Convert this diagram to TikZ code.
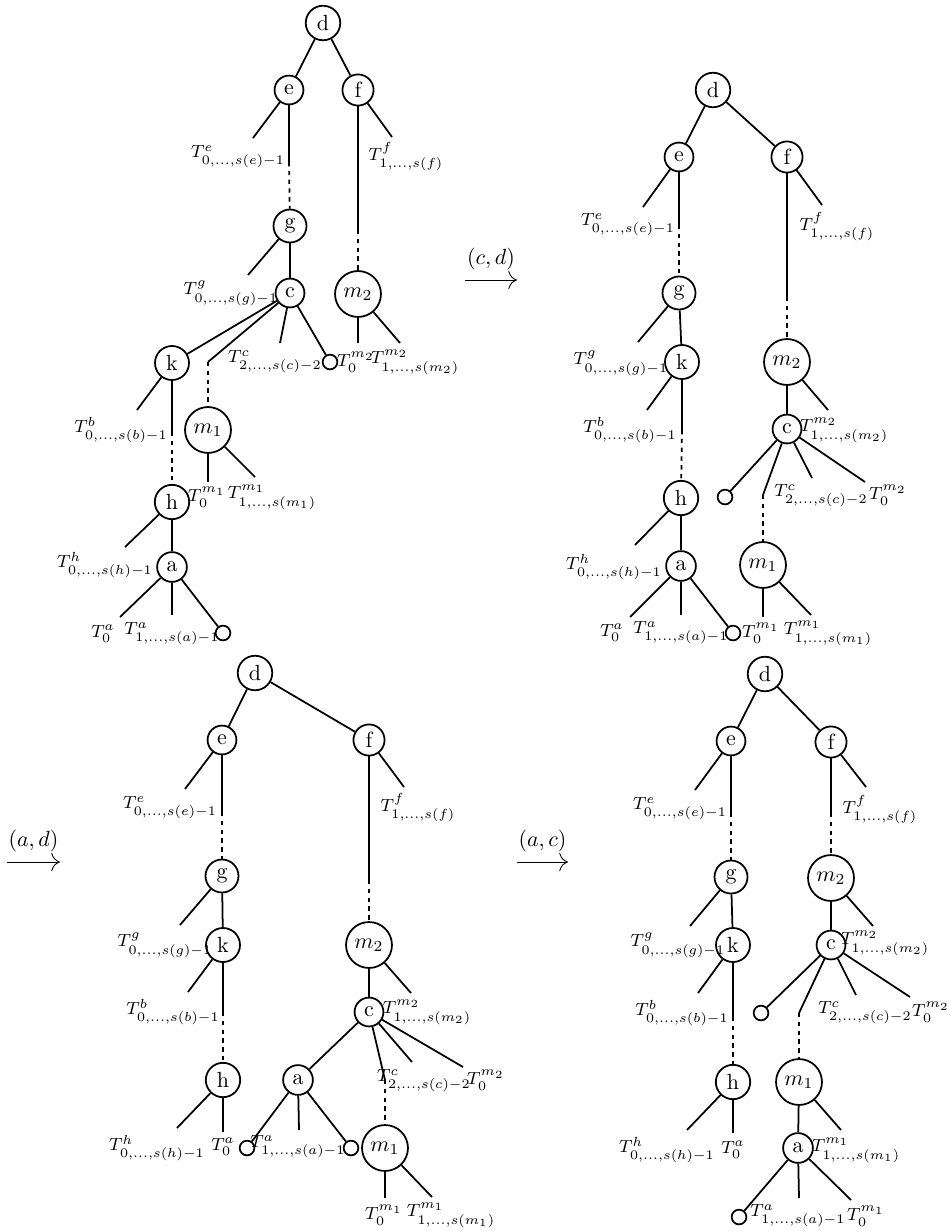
\documentclass[tikz,border=0pt]{standalone}
\usepackage{tikz}
\usetikzlibrary{arrows.meta}

\begin{document}
\begin{tikzpicture}[x=0.016cm,y=-0.016cm,
    vtx/.style={circle,draw,thick,inner sep=2.4pt},
    hole/.style={circle,draw,thick,minimum size=6.7pt,inner sep=0pt},
    edge/.style={thick},
    dsh/.style={thick,dash pattern=on 2pt off 2pt},
    lbl/.style={inner sep=0pt,font=\footnotesize},
    step arrow/.style={-{To[length=4pt]},thin}
  ]
    \useasboundingbox (0,0) rectangle (948,1231);

    % ---------- tree before the moves (top left)
    \node[vtx](Ad) at (323,23)  {d};
    \node[vtx](Ae) at (289,90)  {e};
    \node[vtx](Af) at (358,90)  {f};
    \node[vtx](Ag) at (290,226) {g};
    \node[vtx](Ac) at (290,293) {c};
    \node[vtx](Am2) at (358,294) {$m_2$};
    \node[vtx](Ak) at (172,363) {k};
    \node[vtx](Am1) at (208,430) {$m_1$};
    \node[vtx](Ah) at (172,502) {h};
    \node[vtx](Aa) at (172,567) {a};
    \node[hole](Ao1) at (330,362) {};
    \node[hole](Ao2) at (223,633) {};
    \coordinate (Ae1) at (253,138); \coordinate (Ae2) at (289,162);
    \coordinate (Af1) at (392,137); \coordinate (Af2) at (358,230);
    \coordinate (Ag1) at (248,275);
    \coordinate (Ac1) at (280,343); \coordinate (Ac2) at (208,362);
    \coordinate (Am2a) at (358,343); \coordinate (Am2b) at (400,343);
    \coordinate (Ak1) at (137,410); \coordinate (Ak2) at (172,432);
    \coordinate (Am1a) at (208,482); \coordinate (Am1b) at (255,477);
    \coordinate (Ah1) at (125,547);
    \coordinate (Aa1) at (120,617); \coordinate (Aa2) at (172,615);
    \foreach \u/\v in {Ad/Ae,Ad/Af,Ag/Ac,Ac/Ak,Ac/Ao1,Ah/Aa,Aa/Ao2,
        Ae/Ae1,Ae/Ae2,Af/Af1,Af/Af2,Ag/Ag1,Ac/Ac1,Ac/Ac2,Am2/Am2a,Am2/Am2b,
        Ak/Ak1,Ak/Ak2,Am1/Am1a,Am1/Am1b,Ah/Ah1,Aa/Aa1,Aa/Aa2}
      \draw[edge](\u)--(\v);
    \foreach \u/\v in {Ae2/Ag,Af2/Am2,Ac2/Am1,Ak2/Ah}
      \draw[dsh](\u)--(\v);
    \node[lbl](ATe) at (238,157) {$T^{e}_{0,\ldots,s(e)-1}$};
    \node[lbl](ATf) at (406,157) {$T^{f}_{1,\ldots,s(f)}$};
    \node[lbl](ATg) at (231,293) {$T^{g}_{0,\ldots,s(g)-1}$};
    \node[lbl](ATc) at (275,362) {$T^{c}_{2,\ldots,s(c)-2}$};
    \node[lbl](ATm2a) at (356,362) {$T^{m_2}_{0}$};
    \node[lbl](ATm2b) at (415,362) {$T^{m_2}_{1,\ldots,s(m_2)}$};
    \node[lbl](ATb) at (121,430) {$T^{b}_{0,\ldots,s(b)-1}$};
    \node[lbl](ATm1a) at (207,497) {$T^{m_1}_{0}$};
    \node[lbl](ATm1b) at (272,497) {$T^{m_1}_{1,\ldots,s(m_1)}$};
    \node[lbl](ATh) at (105,565) {$T^{h}_{0,\ldots,s(h)-1}$};
    \node[lbl](ATa0) at (103,634) {$T^{a}_{0}$};
    \node[lbl](ATa1) at (172,634) {$T^{a}_{1,\ldots,s(a)-1}$};

    % ---------- after (c,d) (top right)
    \coordinate (S1) at (465,280); \coordinate (T1) at (517,280);
    \draw[step arrow](S1)--node[above=1pt]{$(c,d)$}(T1);
    \node[vtx](Bd) at (713,90)  {d};
    \node[vtx](Be) at (679,157) {e};
    \node[vtx](Bf) at (787,157) {f};
    \node[vtx](Bg) at (679,293) {g};
    \node[vtx](Bk) at (682,362) {k};
    \node[vtx](Bh) at (681,498) {h};
    \node[vtx](Ba) at (681,566) {a};
    \node[vtx](Bm2) at (787,362) {$m_2$};
    \node[vtx](Bc) at (787,429) {c};
    \node[vtx](Bm1) at (763,565) {$m_1$};
    \node[hole](Bo1) at (725,497) {};
    \node[hole](Bo2) at (733,633) {};
    \coordinate (Be1) at (643,207); \coordinate (Be2) at (679,225);
    \coordinate (Bf1) at (822,205); \coordinate (Bf2) at (787,297);
    \coordinate (Bg1) at (638,342);
    \coordinate (Bk1) at (647,410); \coordinate (Bk2) at (682,430);
    \coordinate (Bh1) at (635,545);
    \coordinate (Ba1) at (630,617); \coordinate (Ba2) at (681,615);
    \coordinate (Bm2b) at (828,410);
    \coordinate (Bc1) at (763,495); \coordinate (Bc2) at (812,478); \coordinate (Bc3) at (865,482);
    \coordinate (Bm1a) at (763,617); \coordinate (Bm1b) at (811,615);
    \foreach \u/\v in {Bd/Be,Bd/Bf,Bg/Bk,Bh/Ba,Ba/Bo2,Bm2/Bc,Bc/Bo1,
        Be/Be1,Be/Be2,Bf/Bf1,Bf/Bf2,Bg/Bg1,Bk/Bk1,Bk/Bk2,Bh/Bh1,Ba/Ba1,Ba/Ba2,
        Bm2/Bm2b,Bc/Bc1,Bc/Bc2,Bc/Bc3,Bm1/Bm1a,Bm1/Bm1b}
      \draw[edge](\u)--(\v);
    \foreach \u/\v in {Be2/Bg,Bf2/Bm2,Bk2/Bh,Bc1/Bm1}
      \draw[dsh](\u)--(\v);
    \node[lbl](BTe) at (628,225) {$T^{e}_{0,\ldots,s(e)-1}$};
    \node[lbl](BTf) at (837,227) {$T^{f}_{1,\ldots,s(f)}$};
    \node[lbl](BTg) at (621,363) {$T^{g}_{0,\ldots,s(g)-1}$};
    \node[lbl](BTb) at (630,430) {$T^{b}_{0,\ldots,s(b)-1}$};
    \node[lbl](BTh) at (614,567) {$T^{h}_{0,\ldots,s(h)-1}$};
    \node[lbl](BTa0) at (612,633) {$T^{a}_{0}$};
    \node[lbl](BTa1) at (681,633) {$T^{a}_{1,\ldots,s(a)-1}$};
    \node[lbl](BTm2b) at (844,430) {$T^{m_2}_{1,\ldots,s(m_2)}$};
    \node[lbl](BTc) at (821,496) {$T^{c}_{2,\ldots,s(c)-2}$};
    \node[lbl](BTm2a) at (888,495) {$T^{m_2}_{0}$};
    \node[lbl](BTm1a) at (761,633) {$T^{m_1}_{0}$};
    \node[lbl](BTm1b) at (828,633) {$T^{m_1}_{1,\ldots,s(m_1)}$};

    % ---------- after (a,d) (bottom left)
    \coordinate (S2) at (7,862); \coordinate (T2) at (60,862);
    \draw[step arrow](S2)--node[above=1pt]{$(a,d)$}(T2);
    \node[vtx](Cd) at (255,673)  {d};
    \node[vtx](Ce) at (222,740)  {e};
    \node[vtx](Cf) at (369,740)  {f};
    \node[vtx](Cg) at (222,876)  {g};
    \node[vtx](Ck) at (223,945)  {k};
    \node[vtx](Ch) at (223,1080) {h};
    \node[vtx](Cm2) at (369,945) {$m_2$};
    \node[vtx](Cc) at (369,1012) {c};
    \node[vtx](Ca) at (298,1080) {a};
    \node[vtx](Cm1) at (385,1148) {$m_1$};
    \node[hole](Co1) at (247,1148) {};
    \node[hole](Co2) at (351,1148) {};
    \coordinate (Ce1) at (185,789); \coordinate (Ce2) at (222,812);
    \coordinate (Cf1) at (404,787); \coordinate (Cf2) at (369,880);
    \coordinate (Cg1) at (180,925);
    \coordinate (Ck1) at (188,992); \coordinate (Ck2) at (223,1012);
    \coordinate (Ch1) at (177,1128); \coordinate (Ch2) at (223,1132);
    \coordinate (Cm2b) at (411,993);
    \coordinate (Cc1) at (385,1080); \coordinate (Cc2) at (412,1062); \coordinate (Cc3) at (463,1067);
    \coordinate (Ca2) at (299,1130);
    \coordinate (Cm1a) at (385,1198); \coordinate (Cm1b) at (432,1197);
    \foreach \u/\v in {Cd/Ce,Cd/Cf,Cg/Ck,Cm2/Cc,Cc/Ca,Ca/Co1,Ca/Co2,
        Ce/Ce1,Ce/Ce2,Cf/Cf1,Cf/Cf2,Cg/Cg1,Ck/Ck1,Ck/Ck2,Ch/Ch1,Ch/Ch2,
        Cm2/Cm2b,Cc/Cc1,Cc/Cc2,Cc/Cc3,Ca/Ca2,Cm1/Cm1a,Cm1/Cm1b}
      \draw[edge](\u)--(\v);
    \foreach \u/\v in {Ce2/Cg,Cf2/Cm2,Ck2/Ch,Cc1/Cm1}
      \draw[dsh](\u)--(\v);
    \node[lbl](CTe) at (170,808) {$T^{e}_{0,\ldots,s(e)-1}$};
    \node[lbl](CTf) at (418,808) {$T^{f}_{1,\ldots,s(f)}$};
    \node[lbl](CTg) at (165,945) {$T^{g}_{0,\ldots,s(g)-1}$};
    \node[lbl](CTb) at (173,1012) {$T^{b}_{0,\ldots,s(b)-1}$};
    \node[lbl](CTh) at (157,1148) {$T^{h}_{0,\ldots,s(h)-1}$};
    \node[lbl](CTa0) at (223,1147) {$T^{a}_{0}$};
    \node[lbl](CTa1) at (298,1147) {$T^{a}_{1,\ldots,s(a)-1}$};
    \node[lbl](CTm2b) at (427,1012) {$T^{m_2}_{1,\ldots,s(m_2)}$};
    \node[lbl](CTc) at (424,1081) {$T^{c}_{2,\ldots,s(c)-2}$};
    \node[lbl](CTm2a) at (486,1080) {$T^{m_2}_{0}$};
    \node[lbl](CTm1a) at (384,1215) {$T^{m_1}_{0}$};
    \node[lbl](CTm1b) at (451,1215) {$T^{m_1}_{1,\ldots,s(m_1)}$};

    % ---------- after (a,c) (bottom right)
    \coordinate (S3) at (517,862); \coordinate (T3) at (568,862);
    \draw[step arrow](S3)--node[above=1pt]{$(a,c)$}(T3);
    \node[vtx](Dd) at (765,674)  {d};
    \node[vtx](De) at (731,741)  {e};
    \node[vtx](Df) at (831,742)  {f};
    \node[vtx](Dg) at (731,877)  {g};
    \node[vtx](Dk) at (733,945)  {k};
    \node[vtx](Dh) at (733,1082) {h};
    \node[vtx](Dm2) at (831,878) {$m_2$};
    \node[vtx](Dc) at (831,945)  {c};
    \node[vtx](Dm1) at (799,1082) {$m_1$};
    \node[vtx](Da) at (798,1148) {a};
    \node[hole](Do1) at (761,1013) {};
    \node[hole](Do2) at (739,1217) {};
    \coordinate (De1) at (695,790); \coordinate (De2) at (731,813);
    \coordinate (Df1) at (866,787); \coordinate (Df2) at (831,813);
    \coordinate (Dg1) at (690,926);
    \coordinate (Dm2b) at (873,926);
    \coordinate (Dk1) at (698,993); \coordinate (Dk2) at (733,1017);
    \coordinate (Dh1) at (687,1130); \coordinate (Dh2) at (733,1133);
    \coordinate (Dc1) at (799,1013); \coordinate (Dc2) at (856,995); \coordinate (Dc3) at (910,997);
    \coordinate (Dm1b) at (841,1130);
    \coordinate (Da2) at (799,1198); \coordinate (Da3) at (851,1200);
    \foreach \u/\v in {Dd/De,Dd/Df,Dg/Dk,Dm2/Dc,Dc/Do1,Dm1/Da,Da/Do2,
        De/De1,De/De2,Df/Df1,Df/Df2,Dg/Dg1,Dm2/Dm2b,Dk/Dk1,Dk/Dk2,Dh/Dh1,Dh/Dh2,
        Dc/Dc1,Dc/Dc2,Dc/Dc3,Dm1/Dm1b,Da/Da2,Da/Da3}
      \draw[edge](\u)--(\v);
    \foreach \u/\v in {De2/Dg,Df2/Dm2,Dk2/Dh,Dc1/Dm1}
      \draw[dsh](\u)--(\v);
    \node[lbl](DTe) at (680,809) {$T^{e}_{0,\ldots,s(e)-1}$};
    \node[lbl](DTf) at (880,810) {$T^{f}_{1,\ldots,s(f)}$};
    \node[lbl](DTg) at (678,945) {$T^{g}_{0,\ldots,s(g)-1}$};
    \node[lbl](DTm2b) at (885,943) {$T^{m_2}_{1,\ldots,s(m_2)}$};
    \node[lbl](DTb) at (682,1013) {$T^{b}_{0,\ldots,s(b)-1}$};
    \node[lbl](DTh) at (667,1150) {$T^{h}_{0,\ldots,s(h)-1}$};
    \node[lbl](DTa0) at (733,1150) {$T^{a}_{0}$};
    \node[lbl](DTc) at (865,1013) {$T^{c}_{2,\ldots,s(c)-2}$};
    \node[lbl](DTm2a) at (931,1012) {$T^{m_2}_{0}$};
    \node[lbl](DTm1b) at (856,1150) {$T^{m_1}_{1,\ldots,s(m_1)}$};
    \node[lbl](DTa1) at (798,1216) {$T^{a}_{1,\ldots,s(a)-1}$};
    \node[lbl](DTm1a) at (866,1216) {$T^{m_1}_{0}$};
  \end{tikzpicture}
\end{document}
